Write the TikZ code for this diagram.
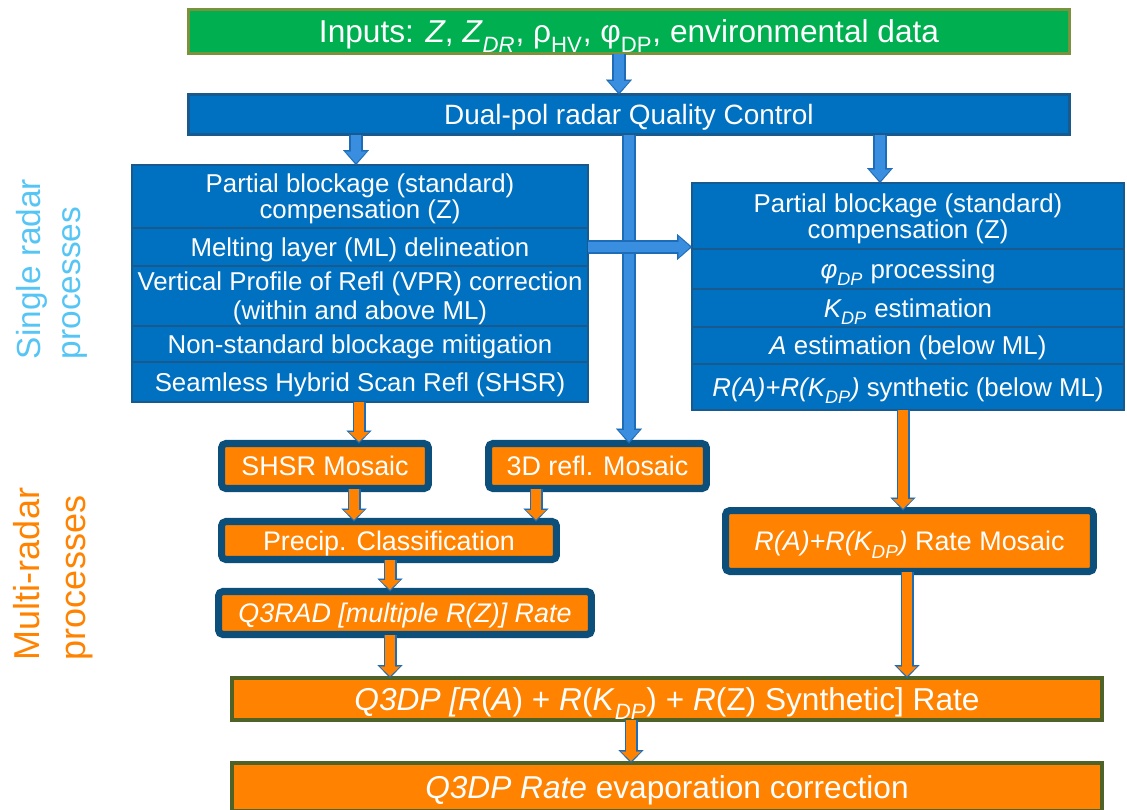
\documentclass[tikz,border=0pt]{standalone}
\usepackage{fontspec}
\setmainfont{Liberation Sans}
\usetikzlibrary{arrows.meta,positioning,shadows}

\definecolor{inputgreen}{HTML}{00B050}
\definecolor{inputedge}{HTML}{77933C}
\definecolor{qcblue}{HTML}{0070C0}
\definecolor{qcedge}{HTML}{185A8E}
\definecolor{mosaicorange}{HTML}{FF8300}
\definecolor{mosaicedge}{HTML}{0B4F7A}
\definecolor{rateedge}{HTML}{4F6228}
\definecolor{arrowblue}{HTML}{3A8EE0}
\definecolor{arrowedge}{HTML}{1D6CB8}
\definecolor{singlecol}{HTML}{55C5F5}

% subscripts sit a bit lower than \textsubscript puts them
\newcommand{\lowsub}[1]{\raisebox{-0.14em}{\textsubscript{#1}}}

\begin{document}
\begin{tikzpicture}[x=0.02cm, y=-0.02cm,
  every node/.style={text=white, inner sep=0pt, outer sep=0pt, align=center},
  boxtext/.style={text depth=0pt},
  greenbox/.style={boxtext, draw=inputedge, line width=1.7pt, fill=inputgreen},
  bluebox/.style={boxtext, draw=qcedge, line width=1.6pt, fill=qcblue,
    font=\fontsize{14.7}{13.6}\selectfont},
  mosaic/.style={boxtext, draw=mosaicedge, line width=4pt, rounded corners=2.5pt,
    fill=mosaicorange, font=\fontsize{15.3}{18}\selectfont,
    drop shadow={shadow xshift=0.8pt, shadow yshift=-1.2pt, opacity=0.3}},
  ratebox/.style={boxtext, draw=rateedge, line width=2.2pt, fill=mosaicorange,
    font=\fontsize{18}{22}\selectfont},
  bluearrow/.style={preaction={draw=arrowedge, line width=0.28cm, shorten >=0pt,
      -{Triangle[width=0.52cm, length=0.3cm, line width=0.01pt]}},
    draw=arrowblue, line width=0.2cm, shorten >=0.04cm,
    -{Triangle[width=0.42cm, length=0.23cm, line width=0.01pt]}},
  orangearrow/.style={preaction={draw=arrowedge, line width=0.26cm, shorten >=0pt,
      -{Triangle[width=0.5cm, length=0.26cm, line width=0.01pt]}},
    draw=mosaicorange, line width=0.19cm, shorten >=0.04cm,
    -{Triangle[width=0.4cm, length=0.19cm, line width=0.01pt]}}]
\useasboundingbox (0,0) rectangle (1127,809);

% side labels
\node[rotate=90, align=left, text=singlecol, font=\fontsize{19}{23}\selectfont]
  (single) at (52,269) {Single radar\\processes};
\node[rotate=90, align=left, text=mosaicorange, font=\fontsize{20.5}{26}\selectfont]
  (multi) at (53,574) {Multi-radar\\processes};

% inputs and quality control
\node[greenbox, minimum width=17.62cm, minimum height=0.88cm,
  font=\fontsize{18}{22}\selectfont] (inputs) at (629,31.5)
  {Inputs: \textit{Z}, \textit{Z}\lowsub{\textit{DR}}, ρ\lowsub{HV},
   φ\lowsub{DP}, environmental data};
\node[bluebox, minimum width=17.62cm, minimum height=0.8cm,
  font=\fontsize{15.9}{18}\selectfont] (qc) at (629,114.5)
  {Dual-pol radar Quality Control};

% single radar chain, reflectivity side
\node[bluebox, minimum width=9.12cm, minimum height=1.26cm, anchor=north]
  (lb1) at (360,165) {Partial blockage (standard)\\compensation (Z)};
\node[bluebox, minimum width=9.12cm, minimum height=0.76cm, below=0pt of lb1]
  (lb2) {Melting layer (ML) delineation};
\node[bluebox, minimum width=9.12cm, minimum height=1.2cm, below=0pt of lb2,
  font=\fontsize{14.7}{16.4}\selectfont]
  (lb3) {Vertical Profile of Refl (VPR) correction\\(within and above ML)};
\node[bluebox, minimum width=9.12cm, minimum height=0.72cm, below=0pt of lb3]
  (lb4) {Non-standard blockage mitigation};
\node[bluebox, minimum width=9.12cm, minimum height=0.8cm, below=0pt of lb4]
  (lb5) {Seamless Hybrid Scan Refl (SHSR)};

% single radar chain, dual-pol side
\node[bluebox, minimum width=8.64cm, minimum height=1.32cm, anchor=north]
  (rb1) at (908,183) {Partial blockage (standard)\\compensation (Z)};
\node[bluebox, minimum width=8.64cm, minimum height=0.8cm, below=0pt of rb1]
  (rb2) {\textit{φ\lowsub{DP}} processing};
\node[bluebox, minimum width=8.64cm, minimum height=0.76cm, below=0pt of rb2]
  (rb3) {\textit{K\lowsub{DP}} estimation};
\node[bluebox, minimum width=8.64cm, minimum height=0.74cm, below=0pt of rb3]
  (rb4) {\textit{A} estimation (below ML)};
\node[bluebox, minimum width=8.64cm, minimum height=0.92cm, below=0pt of rb4]
  (rb5) {\textit{R(A)+R(K\lowsub{DP})} synthetic (below ML)};

% mosaics
\node[mosaic, minimum width=4.14cm, minimum height=0.9cm] (shsrmos) at (325,466)
  {SHSR Mosaic};
\node[mosaic, minimum width=4.36cm, minimum height=0.9cm] (refmos) at (597.5,466)
  {3D refl. Mosaic};
\node[mosaic, minimum width=6.7cm, minimum height=0.76cm] (precip) at (389,540.5)
  {Precip. Classification};
\node[mosaic, minimum width=7.46cm, minimum height=0.86cm] (q3rad) at (405,613)
  {\textit{Q3RAD [multiple R(Z)] Rate}};
\node[mosaic, minimum width=7.36cm, minimum height=1.22cm] (ratemos) at (909.5,541)
  {\textit{R(A)+R(K\lowsub{DP})} Rate Mosaic};

% final rates
\node[ratebox, minimum width=17.4cm, minimum height=0.84cm] (q3dp) at (667,699)
  {\textit{Q3DP [R}(\textit{A}) + \textit{R}(\textit{K}\lowsub{\textit{DP}})
   + \textit{R}(Z) Synthetic] Rate};
\node[ratebox, minimum width=17.4cm, minimum height=0.96cm] (evap) at (667,787)
  {\textit{Q3DP Rate} evaporation correction};

% blue flow
\draw[bluearrow] (inputs.south -| 619,0) -- (qc.north -| 619,0);
\draw[bluearrow] (qc.south -| 356,0) -- (lb1.north -| 356,0);
\draw[bluearrow] (qc.south -| 880,0) -- (rb1.north -| 880,0);
\draw[bluearrow] (qc.south -| 629,0) -- (refmos.north -| 629,0);
\draw[bluearrow] (lb2.east) -- (lb2.east -| rb1.west);

% orange flow
\draw[orangearrow] (lb5.south -| 359,0) -- (shsrmos.north -| 359,0);
\draw[orangearrow] (shsrmos.south -| 354,0) -- (precip.north -| 354,0);
\draw[orangearrow] (refmos.south -| 536,0) -- (precip.north -| 536,0);
\draw[orangearrow] (precip.south -| 390,0) -- (q3rad.north -| 390,0);
\draw[orangearrow] (q3rad.south -| 390,0) -- (q3dp.north -| 390,0);
\draw[orangearrow] (rb5.south -| 903,0) -- (ratemos.north -| 903,0);
\draw[orangearrow] (ratemos.south -| 907,0) -- (q3dp.north -| 907,0);
\draw[orangearrow] (q3dp.south -| 631,0) -- (evap.north -| 631,0);
\end{tikzpicture}
\end{document}
